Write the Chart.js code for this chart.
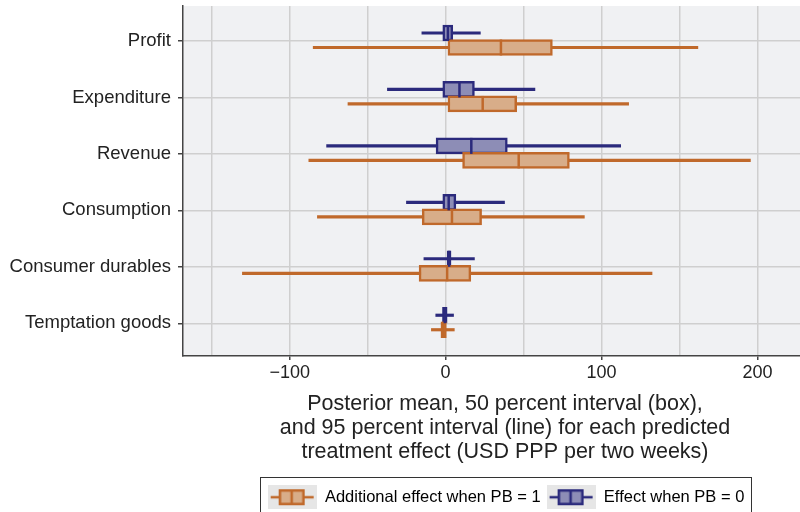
<!DOCTYPE html>
<html>
<head>
<meta charset="utf-8">
<script src="https://cdn.jsdelivr.net/npm/chart.js@4.4.1/dist/chart.umd.min.js"></script>
<style>
  html, body { margin: 0; padding: 0; background: #fff; }
  #wrap { width: 800px; height: 512px; }
</style>
</head>
<body>
<div id="wrap"><canvas id="c"></canvas></div>
<script>
/* horizontal box plots: effect when PB = 0 (blue) and additional effect when PB = 1 (orange) */

const categories = ['Profit', 'Expenditure', 'Revenue', 'Consumption', 'Consumer durables', 'Temptation goods'];

// Effect when PB = 0
const pb0Lo  = [-15.2, -37.3, -76.3, -25.1, -13.9, -6.3];
const pb0Q1  = [-1.8, -1.8, -6.1, -1.8, 1.0, -2.0];
const pb0Med = [1.5, 8.9, 16.5, 2.0, 2.3, -0.5];
const pb0Q3  = [4.6, 18.5, 39.6, 6.6, 3.5, 1.0];
const pb0Hi  = [22.3, 57.3, 112.3, 37.8, 18.5, 5.1];

// Additional effect when PB = 1
const pb1Lo  = [-84.9, -62.6, -87.7, -82.2, -130.3, -9.1];
const pb1Q1  = [1.5, 1.5, 10.9, -15.0, -17.0, -3.0];
const pb1Med = [35.5, 23.8, 46.9, 4.1, 1.0, -1.3];
const pb1Q3  = [68.5, 45.6, 79.4, 23.1, 16.2, 0.5];
const pb1Hi  = [161.8, 117.4, 195.5, 89.0, 132.4, 5.6];

const xTickLabels = [-100, 0, 100, 200];
const axisTitle = [
  'Posterior mean, 50 percent interval (box),',
  'and 95 percent interval (line) for each predicted',
  'treatment effect (USD PPP per two weeks)'
];

const ORANGE = '#c0692b', ORANGE_FILL = '#d8ad89';
const BLUE = '#2b2a7c', BLUE_FILL = '#8d8db6';
const OFF_BLUE = -0.142, OFF_ORANGE = 0.115;
const BOX = 16, WHISK = 2.5;
const FONT = '"Liberation Sans", Arial, Helvetica, sans-serif';

Chart.defaults.font.family = FONT;
Chart.defaults.color = '#222';

function pts(lo, hi, off) {
  return categories.map((c, i) => ({ x: [lo[i], hi[i]], y: i + off }));
}

function legendIcon(stroke, fill) {
  const cv = document.createElement('canvas');
  cv.width = 49; cv.height = 24;
  const g = cv.getContext('2d');
  g.fillStyle = '#e6e6e6';
  g.fillRect(0, 0, 49, 24);
  g.fillStyle = stroke;
  g.fillRect(3, 10.75, 43, 2.5);
  g.fillStyle = fill;
  g.fillRect(11, 4, 26, 16);
  g.strokeStyle = stroke;
  g.lineWidth = 2.5;
  g.strokeRect(12.25, 5.25, 23.5, 13.5);
  g.beginPath();
  g.moveTo(24, 4); g.lineTo(24, 20);
  g.stroke();
  return cv;
}

const bgPlugin = {
  id: 'plotBg',
  beforeDraw(chart) {
    const { ctx, chartArea: a } = chart;
    ctx.save();
    ctx.fillStyle = '#f0f1f3';
    ctx.fillRect(a.left, a.top, a.right - a.left, a.bottom - a.top);
    ctx.restore();
  }
};

const medianPlugin = {
  id: 'medians',
  afterDatasetsDraw(chart) {
    const ctx = chart.ctx;
    const xs = chart.scales.x, ys = chart.scales.y;
    const groups = [[pb1Med, OFF_ORANGE, ORANGE], [pb0Med, OFF_BLUE, BLUE]];
    ctx.save();
    ctx.lineWidth = 2.5;
    groups.forEach(([med, off, col]) => {
      ctx.strokeStyle = col;
      med.forEach((m, i) => {
        const x = xs.getPixelForValue(m);
        const y = ys.getPixelForValue(i + off);
        ctx.beginPath();
        ctx.moveTo(x, y - BOX / 2);
        ctx.lineTo(x, y + BOX / 2);
        ctx.stroke();
      });
    });
    ctx.restore();
  }
};

// x-axis title, legend placement and legend frame
const layoutPlugin = {
  id: 'layoutBits',
  afterLayout(chart) {
    const L = chart.legend;
    const dx = 506 - (L.left + L.right) / 2;
    const dy = 483 - L.top;
    L.left += dx; L.right += dx;
    L.top += dy; L.bottom += dy;
  },
  afterDraw(chart) {
    const ctx = chart.ctx;
    ctx.save();
    ctx.fillStyle = '#222';
    ctx.font = '21.5px ' + FONT;
    ctx.textAlign = 'center';
    ctx.textBaseline = 'middle';
    axisTitle.forEach((t, i) => ctx.fillText(t, 505, 404 + i * 24));

    const hb = chart.legend.legendHitBoxes;
    if (hb && hb.length) {
      const first = hb[0], last = hb[hb.length - 1];
      const l = first.left - 8, r = last.left + last.width + 6;
      ctx.strokeStyle = '#333';
      ctx.lineWidth = 1;
      ctx.strokeRect(Math.round(l) + 0.5, 477.5, Math.round(r - l), 60);
    }
    ctx.restore();
  }
};

const common = { grouped: false, borderSkipped: false };

new Chart(document.getElementById('c'), {
  type: 'bar',
  data: {
    datasets: [
      Object.assign({ label: 'pb1 box', data: pts(pb1Q1, pb1Q3, OFF_ORANGE), backgroundColor: ORANGE_FILL,
        borderColor: ORANGE, borderWidth: 2.5, barThickness: BOX, order: 0 }, common),
      Object.assign({ label: 'pb0 box', data: pts(pb0Q1, pb0Q3, OFF_BLUE), backgroundColor: BLUE_FILL,
        borderColor: BLUE, borderWidth: 2.5, barThickness: BOX, order: 0 }, common),
      Object.assign({ label: 'pb1 line', data: pts(pb1Lo, pb1Hi, OFF_ORANGE), backgroundColor: ORANGE,
        borderWidth: 0, barThickness: WHISK, order: 1 }, common),
      Object.assign({ label: 'pb0 line', data: pts(pb0Lo, pb0Hi, OFF_BLUE), backgroundColor: BLUE,
        borderWidth: 0, barThickness: WHISK, order: 1 }, common)
    ]
  },
  plugins: [bgPlugin, medianPlugin, layoutPlugin],
  options: {
    indexAxis: 'y',
    responsive: true,
    maintainAspectRatio: false,
    animation: false,
    layout: { padding: { top: 6, right: 0, left: 0, bottom: 0 } },
    plugins: {
      tooltip: { enabled: false },
      legend: {
        position: 'bottom',
        labels: {
          usePointStyle: true,
          pointStyleWidth: 49,
          padding: 6,
          color: '#222',
          font: { size: 16.5 },
          generateLabels: () => [
            { text: 'Additional effect when PB = 1', pointStyle: legendIcon(ORANGE, ORANGE_FILL),
              fillStyle: ORANGE_FILL, strokeStyle: ORANGE, lineWidth: 0, hidden: false, datasetIndex: 0 },
            { text: 'Effect when PB = 0', pointStyle: legendIcon(BLUE, BLUE_FILL),
              fillStyle: BLUE_FILL, strokeStyle: BLUE, lineWidth: 0, hidden: false, datasetIndex: 1 }
          ]
        }
      }
    },
    scales: {
      x: {
        type: 'linear',
        min: -168.4,
        max: 227.3,
        afterFit: s => {
          s.height = s.chart.height - 356 - s.chart.legend.height;
          s.paddingLeft = 0; s.paddingRight = 0;
        },
        border: { color: '#444', width: 1.5 },
        grid: {
          color: '#cfcfcf',
          lineWidth: 1.5,
          tickLength: 4,
          tickColor: c => (c.tick && xTickLabels.includes(c.tick.value)) ? '#444' : 'rgba(0,0,0,0)'
        },
        ticks: {
          stepSize: 50,
          includeBounds: false,
          autoSkip: false,
          maxRotation: 0,
          padding: 2,
          color: '#222',
          font: { size: 18 },
          callback: v => xTickLabels.includes(v) ? (v < 0 ? '\u2212' + Math.abs(v) : String(v)) : ''
        }
      },
      y: {
        type: 'linear',
        reverse: true,
        min: -0.62,
        max: 5.58,
        offset: false,
        afterFit: s => { s.width = 183; s.paddingTop = 0; s.paddingBottom = 0; },
        border: { color: '#444', width: 1.5 },
        grid: { color: '#cfcfcf', lineWidth: 1.5, offset: false, tickLength: 5, tickColor: '#444' },
        ticks: {
          stepSize: 1,
          includeBounds: false,
          autoSkip: false,
          padding: 7,
          color: '#222',
          font: { size: 18.5 },
          callback: v => categories[v] !== undefined ? categories[v] : ''
        }
      }
    }
  }
});
</script>
</body>
</html>
